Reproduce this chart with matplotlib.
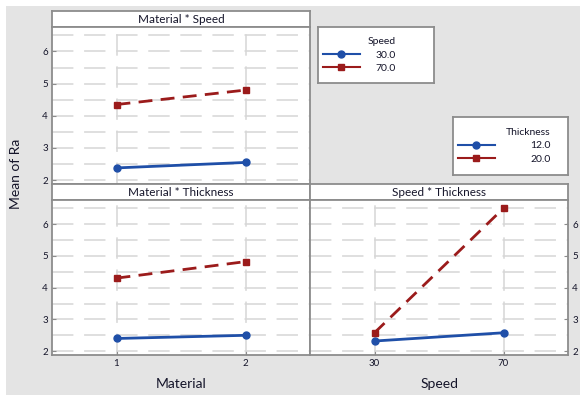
import matplotlib
matplotlib.use("Agg")
import matplotlib.pyplot as plt
from matplotlib.lines import Line2D
from matplotlib.patches import Rectangle

plt.rcParams['font.family'] = ['Lato', 'DejaVu Sans']

# data
materials = [1, 2]
speeds = [30, 70]
speed_levels = ['30.0', '70.0']
thick_levels = ['12.0', '20.0']

ms_speed30 = [2.38, 2.55]
ms_speed70 = [4.35, 4.80]
mt_thick12 = [2.40, 2.50]
mt_thick20 = [4.30, 4.82]
st_thick12 = [2.32, 2.58]
st_thick20 = [2.58, 6.50]

yticks = [2, 3, 4, 5, 6]

BLUE = '#1f4fa8'
RED = '#9b1b1b'
FRAME = '#8c8c8c'
BG = '#e4e4e4'
INK = '#15152a'
W, H = 580, 395

fig = plt.figure(figsize=(W / 100, H / 100), dpi=100)
fig.patch.set_facecolor(BG)
# thin white margin on top and left edges
fig.patches.append(Rectangle((0, 1 - 6 / H), 1, 6 / H, transform=fig.transFigure,
                             facecolor='white', edgecolor='none', zorder=-10))
fig.patches.append(Rectangle((0, 0), 6 / W, 1, transform=fig.transFigure,
                             facecolor='white', edgecolor='none', zorder=-10))


def box(x0, y0, x1, y1):
    # pixel box (top-left origin) -> figure fraction
    return [x0 / W, 1 - y1 / H, (x1 - x0) / W, (y1 - y0) / H]


def strip(x0, y0, x1, y1, text):
    a = fig.add_axes(box(x0, y0, x1, y1))
    a.set_xticks([])
    a.set_yticks([])
    a.set_facecolor('white')
    for s in a.spines.values():
        s.set_color(FRAME)
        s.set_linewidth(1.3)
    a.text(0.5, 0.45, text, ha='center', va='center', fontsize=8.5,
           color=INK, transform=a.transAxes)


def panel(x0, y0, x1, y1, xs, xlim, ya, yb, side='left', xlabels=True):
    a = fig.add_axes(box(x0, y0, x1, y1))
    a.set_facecolor('white')
    a.set_xlim(*xlim)
    a.set_ylim(1.88, 6.76)
    a.set_yticks(yticks)
    a.set_yticks([2.5, 3.5, 4.5, 5.5, 6.5], minor=True)
    a.set_xticks(xs)
    a.grid(True, which='both', axis='y', color='#d6d6d6', lw=1.1,
           dashes=(14, 7))
    a.grid(True, which='major', axis='x', color='#d6d6d6', lw=1.1,
           dashes=(14, 7))
    a.tick_params(axis='y', which='minor', length=0)
    a.tick_params(axis='both', which='major', direction='in', length=3,
                  color=FRAME, labelsize=7, labelcolor=INK, pad=3)
    if side == 'right':
        a.yaxis.tick_right()
        a.tick_params(axis='y', which='major', direction='in', length=3)
    if not xlabels:
        a.set_xticklabels([])
        a.tick_params(axis='x', length=0)
    for s in a.spines.values():
        s.set_color(FRAME)
        s.set_linewidth(1.3)
    a.plot(xs, ya, color=BLUE, lw=2, marker='o', ms=5, zorder=3)
    a.plot(xs, yb, color=RED, lw=2, ls=(0, (5, 3)), marker='s', ms=5,
           zorder=3)
    return a


# top-left: Material * Speed
strip(52, 11, 310, 27, 'Material * Speed')
panel(52, 27, 310, 184, materials, (0.5, 2.5), ms_speed30, ms_speed70,
      xlabels=False)

# bottom-left: Material * Thickness
strip(52, 184, 310, 200, 'Material * Thickness')
panel(52, 200, 310, 355, materials, (0.5, 2.5), mt_thick12, mt_thick20)

# bottom-right: Speed * Thickness
strip(310, 184, 568, 200, 'Speed * Thickness')
panel(310, 200, 568, 355, speeds, (10, 90), st_thick12, st_thick20,
      side='right')

fig.text(181 / W, 1 - 384 / H, 'Material', ha='center', va='center',
         fontsize=10, color=INK)
fig.text(440 / W, 1 - 384 / H, 'Speed', ha='center', va='center',
         fontsize=10, color=INK)
fig.text(16 / W, 1 - 174 / H, 'Mean of Ra', ha='center', va='center',
         rotation=90, fontsize=10, color=INK)


def legend_box(x0, y0, x1, y1, title, labels, textpad):
    a = fig.add_axes(box(x0, y0, x1, y1))
    a.set_xticks([])
    a.set_yticks([])
    a.set_facecolor('white')
    for s in a.spines.values():
        s.set_color(FRAME)
        s.set_linewidth(1.3)
    handles = [Line2D([], [], color=BLUE, lw=1.5, marker='o', ms=5),
               Line2D([], [], color=RED, lw=1.5, marker='s', ms=5)]
    leg = a.legend(handles, labels, title=title, loc='center left',
                   frameon=False, fontsize=7.5, title_fontsize=7.5,
                   handlelength=3.5, handletextpad=textpad, labelspacing=0.4,
                   alignment='right', borderaxespad=0.1)
    for t in leg.get_texts():
        t.set_color(INK)
    leg.get_title().set_color(INK)


legend_box(318, 27, 434, 83, 'Speed', speed_levels, 1.5)
legend_box(453, 117, 568, 175, 'Thickness', thick_levels, 3.4)

fig.savefig('out.png', dpi=100, facecolor=BG)
